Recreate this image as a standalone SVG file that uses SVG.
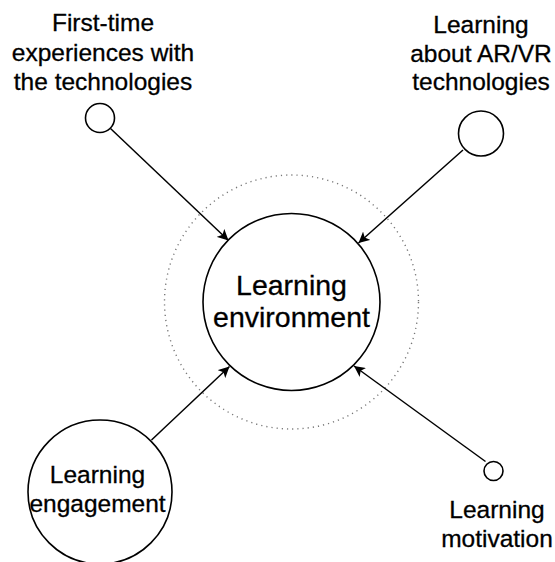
<svg xmlns="http://www.w3.org/2000/svg" width="555" height="562" viewBox="0 0 555 562">
<style>
.node{fill:#fff;stroke:#000;stroke-width:1.6}
.lbl{font-family:"Liberation Sans",Arial,sans-serif;font-size:24.5px;fill:#000;stroke:#000;stroke-width:0.3;text-anchor:middle}
.big{font-size:28.5px}
.conn{stroke:#000;stroke-width:1.5;fill:none;marker-end:url(#ah)}
</style>
<defs>
<marker id="ah" viewBox="0 0 10 10" refX="10" refY="5" markerWidth="11" markerHeight="11" markerUnits="userSpaceOnUse" orient="auto">
<path d="M0,0 L10,5 L0,10 L2.5,5 Z" fill="#000"/>
</marker>
</defs>
<rect width="555" height="562" fill="#fff"/>
<g id="ring">
<circle cx="291.5" cy="302" r="127" fill="none" stroke="#777" stroke-width="1.4" stroke-dasharray="1.2 4"/>
</g>
<g id="connectors">
<line class="conn" x1="110.5" y1="128.5" x2="228.5" y2="240.5"/>
<line class="conn" x1="463" y1="150" x2="358.5" y2="243"/>
<line class="conn" x1="151.5" y1="440" x2="229.5" y2="366.5"/>
<line class="conn" x1="485.5" y1="461.5" x2="354" y2="366"/>
</g>
<g id="center">
<circle class="node" cx="291.5" cy="302" r="88.5"/>
<text class="lbl big" x="291.5" y="295">Learning</text>
<text class="lbl big" x="291.5" y="327">environment</text>
</g>
<g id="first-time">
<circle class="node" cx="100" cy="118" r="14.5"/>
<text class="lbl" x="103" y="31">First-time</text>
<text class="lbl" x="103" y="61">experiences with</text>
<text class="lbl" x="103" y="90">the technologies</text>
</g>
<g id="about-arvr">
<circle class="node" cx="481" cy="133.5" r="22.5"/>
<text class="lbl" x="481" y="33">Learning</text>
<text class="lbl" x="481" y="62">about AR/VR</text>
<text class="lbl" x="481" y="90">technologies</text>
</g>
<g id="engagement">
<circle class="node" cx="100" cy="492" r="72"/>
<text class="lbl" x="97.5" y="483">Learning</text>
<text class="lbl" x="97.5" y="512">engagement</text>
</g>
<g id="motivation">
<circle class="node" cx="493.5" cy="471" r="9.5"/>
<text class="lbl" x="497" y="518">Learning</text>
<text class="lbl" x="497" y="547">motivation</text>
</g>
</svg>
